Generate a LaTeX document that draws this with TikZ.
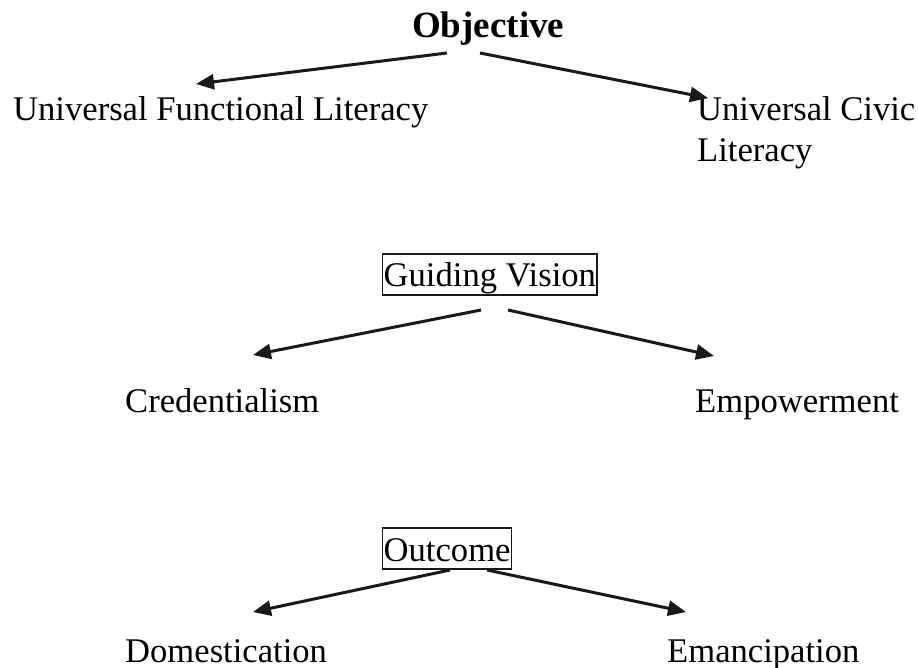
\documentclass[tikz,border=0pt]{standalone}
\usepackage{fontspec}
\setmainfont{Liberation Serif}
\usetikzlibrary{arrows.meta}

\begin{document}
\begin{tikzpicture}[x=1pt,y=-1pt,
    lbl/.style={font=\fontsize{34.6}{42}\selectfont, inner sep=0pt, anchor=base west},
    boxed/.style={lbl, draw=black!90, line width=1.4pt, inner xsep=1pt, inner ysep=1pt,
                  text height=32pt, text depth=7pt},
    arr/.style={-{Triangle[length=18pt,width=15pt]}, line width=3pt, draw=black!90}]
            \useasboundingbox (0,0) rectangle (918,668);

            \node[lbl, font=\fontsize{37}{42}\selectfont\bfseries] (obj) at (412,38) {Objective};
            \node[lbl] (ufl) at (13,121) {Universal Functional Literacy};
            \node[lbl] (uc) at (697,121) {Universal Civic};
            \node[lbl] (ucl) at (697,162) {Literacy};

            \node[boxed] (gv) at (382,287) {Guiding Vision};
            \node[lbl] (cred) at (125,412) {Credentialism};
            \node[lbl] (emp) at (695,412) {Empowerment};

            \node[boxed] (out) at (382,561) {Outcome};
            \node[lbl] (dom) at (125,662) {Domestication};
            \node[lbl] (eman) at (667,662) {Emancipation};

            \coordinate (obj-l) at (447,53);
            \coordinate (obj-r) at (480,53);
            \coordinate (ufl-t) at (196,84);
            \coordinate (uc-t) at (708,98);

            \coordinate (gv-l) at (481,310);
            \coordinate (gv-r) at (508,310);
            \coordinate (cred-t) at (253,355);
            \coordinate (emp-t) at (714,356);

            \coordinate (out-l) at (450,570);
            \coordinate (out-r) at (487,570);
            \coordinate (dom-t) at (253,612);
            \coordinate (eman-t) at (686,612);

            \draw [arr] (obj-l) -- (ufl-t);
            \draw [arr] (obj-r) -- (uc-t);

            \draw [arr] (gv-l) -- (cred-t);
            \draw [arr] (gv-r) -- (emp-t);

            \draw [arr] (out-l) -- (dom-t);
            \draw [arr] (out-r) -- (eman-t);
        \end{tikzpicture}
\end{document}
